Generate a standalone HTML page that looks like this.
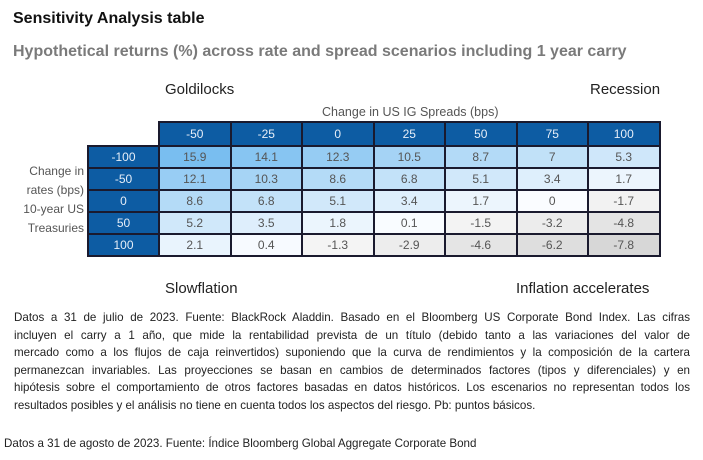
<!DOCTYPE html>
<html><head><meta charset="utf-8"><style>
body{margin:0;width:703px;height:460px;background:#fff;position:relative;overflow:hidden;font-family:"Liberation Sans",sans-serif}
.abs{position:absolute;white-space:nowrap}
#tbl{position:absolute;left:87px;top:121px;border-collapse:collapse}
#tbl td{border:2px solid #1a1a2e;height:20px;padding:0;text-align:center;font-size:12px;color:#555}
#tbl td.h{background:#0d5ca3;color:#e6eef8}
.para{position:absolute;left:14px;width:676px;font-size:11.6px;color:#222;line-height:17.6px;top:309px}
.para div{text-align:justify;text-align-last:justify;white-space:nowrap}
.para div.l{text-align-last:left}
</style></head><body>
<div class="abs" style="left:13px;top:10px;font-size:16px;font-weight:bold;color:#111">Sensitivity Analysis table</div>
<div class="abs" style="left:13px;top:43px;font-size:16px;font-weight:bold;color:#7a7a7a">Hypothetical returns (%) across rate and spread scenarios including 1 year carry</div>
<div class="abs" style="left:165px;top:81px;font-size:15px;color:#222">Goldilocks</div>
<div class="abs" style="left:590px;top:81px;font-size:15px;color:#222">Recession</div>
<div class="abs" style="left:165px;top:280px;font-size:15px;color:#222">Slowflation</div>
<div class="abs" style="left:516px;top:280px;font-size:15px;color:#222">Inflation accelerates</div>
<div class="abs" style="left:322px;top:105px;font-size:12.5px;color:#555">Change in US IG Spreads (bps)</div>
<div class="abs" style="left:14px;top:162px;width:70px;text-align:right;font-size:12px;color:#555;line-height:19px;white-space:normal">Change in<br>rates (bps)<br>10-year US<br>Treasuries</div>
<table id="tbl"></table>
<div class="para">
<div>Datos a 31 de julio de 2023. Fuente: BlackRock Aladdin. Basado en el Bloomberg US Corporate Bond Index. Las cifras</div>
<div>incluyen el carry a 1 año, que mide la rentabilidad prevista de un título (debido tanto a las variaciones del valor de</div>
<div>mercado como a los flujos de caja reinvertidos) suponiendo que la curva de rendimientos y la composición de la cartera</div>
<div>permanezcan invariables. Las proyecciones se basan en cambios de determinados factores (tipos y diferenciales) y en</div>
<div>hipótesis sobre el comportamiento de otros factores basadas en datos históricos. Los escenarios no representan todos los</div>
<div class="l">resultados posibles y el análisis no tiene en cuenta todos los aspectos del riesgo. Pb: puntos básicos.</div>
</div>
<div class="abs" style="left:4px;top:437px;font-size:11.6px;color:#222">Datos a 31 de agosto de 2023. Fuente: Índice Bloomberg Global Aggregate Corporate Bond</div>
<script>
const spreads=["-50","-25","0","25","50","75","100"];
const rates=["-100","-50","0","50","100"];
const row1=[15.9,14.1,12.3,10.5,8.7,7,5.3];
const row2=[12.1,10.3,8.6,6.8,5.1,3.4,1.7];
const row3=[8.6,6.8,5.1,3.4,1.7,0,-1.7];
const row4=[5.2,3.5,1.8,0.1,-1.5,-3.2,-4.8];
const row5=[2.1,0.4,-1.3,-2.9,-4.6,-6.2,-7.8];
const values=[row1,row2,row3,row4,row5];
function mix(a,b,t){return 'rgb('+a.map((x,i)=>Math.round(x+(b[i]-x)*t)).join(',')+')';}
function color(v){
  if(v>=0) return mix([250,252,255],[120,190,240],Math.min(v/16,1));
  return mix([250,250,250],[214,214,214],Math.min(-v/8,1));
}
const t=document.getElementById('tbl');
let tr=document.createElement('tr');


let c=document.createElement('td');c.style.cssText='border:none;width:70px';
tr.appendChild(c);
spreads.forEach(s=>{const td=document.createElement('td');td.className='h';td.style.width='69.5px';td.style.height='22px';td.textContent=s;


tr.appendChild(td);});
t.appendChild(tr);
rates.forEach((r,i)=>{
  const tr=document.createElement('tr');
  
  
  const th=document.createElement('td');th.className='h';th.textContent=r;
  
  
  tr.appendChild(th);
  values[i].forEach(v=>{const td=document.createElement('td');td.textContent=v;td.style.background=color(v);
    
    
    tr.appendChild(td);});
  t.appendChild(tr);
});
</script>
</body></html>
